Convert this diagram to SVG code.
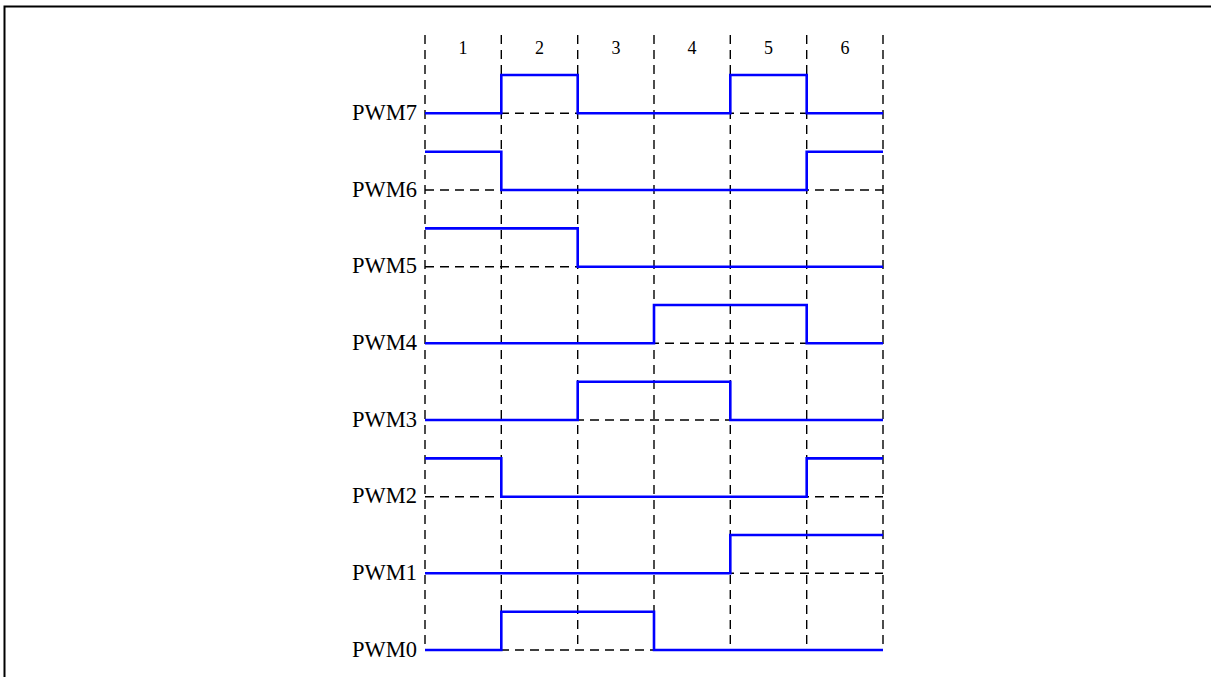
<svg xmlns="http://www.w3.org/2000/svg" width="1211" height="677" viewBox="0 0 1211 677">
<style>
.grid{stroke:#000;stroke-width:1.4;stroke-dasharray:9 6;fill:none}
.sig{stroke:#0000ff;stroke-width:2.6;fill:none;stroke-linejoin:miter;stroke-linecap:butt}
.lbl{font-family:"Liberation Serif","Times New Roman",serif;font-size:22.5px;fill:#000;text-anchor:end}
.col{font-family:"Liberation Serif","Times New Roman",serif;font-size:18px;fill:#000;text-anchor:middle}
</style>
<rect x="0" y="0" width="1211" height="677" fill="#fff"/>
<path d="M4.5 690 V6.5 H1220" stroke="#000" stroke-width="2" fill="none"/>
<g id="grid" class="grid">
<line x1="425" y1="35" x2="425" y2="650"/>
<line x1="501.3" y1="35" x2="501.3" y2="650"/>
<line x1="577.7" y1="35" x2="577.7" y2="650"/>
<line x1="654" y1="35" x2="654" y2="650"/>
<line x1="730.3" y1="35" x2="730.3" y2="650"/>
<line x1="806.7" y1="35" x2="806.7" y2="650"/>
<line x1="883" y1="35" x2="883" y2="650"/>
<line x1="425" y1="113.3" x2="883" y2="113.3"/>
<line x1="425" y1="190" x2="883" y2="190"/>
<line x1="425" y1="266.7" x2="883" y2="266.7"/>
<line x1="425" y1="343.3" x2="883" y2="343.3"/>
<line x1="425" y1="420" x2="883" y2="420"/>
<line x1="425" y1="496.7" x2="883" y2="496.7"/>
<line x1="425" y1="573.3" x2="883" y2="573.3"/>
<line x1="425" y1="650" x2="883" y2="650"/>
</g>
<g id="columns">
<text class="col" x="463" y="54">1</text>
<text class="col" x="539.5" y="54">2</text>
<text class="col" x="616" y="54">3</text>
<text class="col" x="692" y="54">4</text>
<text class="col" x="768.5" y="54">5</text>
<text class="col" x="845" y="54">6</text>
</g>
<g id="pwm7">
<text class="lbl" x="417" y="120">PWM7</text>
<path class="sig" d="M425 113.3 H501.3 V75 H577.7 V113.3 H730.3 V75 H806.7 V113.3 H883"/>
</g>
<g id="pwm6">
<text class="lbl" x="417" y="196.7">PWM6</text>
<path class="sig" d="M425 151.7 H501.3 V190 H806.7 V151.7 H883"/>
</g>
<g id="pwm5">
<text class="lbl" x="417" y="273.4">PWM5</text>
<path class="sig" d="M425 228.4 H577.7 V266.7 H883"/>
</g>
<g id="pwm4">
<text class="lbl" x="417" y="350">PWM4</text>
<path class="sig" d="M425 343.3 H654 V305 H806.7 V343.3 H883"/>
</g>
<g id="pwm3">
<text class="lbl" x="417" y="426.7">PWM3</text>
<path class="sig" d="M425 420 H577.7 V381.7 H730.3 V420 H883"/>
</g>
<g id="pwm2">
<text class="lbl" x="417" y="503.4">PWM2</text>
<path class="sig" d="M425 458.4 H501.3 V496.7 H806.7 V458.4 H883"/>
</g>
<g id="pwm1">
<text class="lbl" x="417" y="580">PWM1</text>
<path class="sig" d="M425 573.3 H730.3 V535 H883"/>
</g>
<g id="pwm0">
<text class="lbl" x="417" y="656.7">PWM0</text>
<path class="sig" d="M425 650 H501.3 V611.7 H654 V650 H883"/>
</g>
</svg>
